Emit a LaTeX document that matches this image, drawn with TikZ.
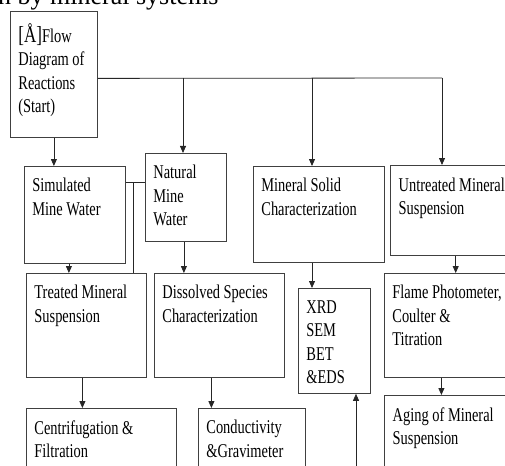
\documentclass[tikz,border=0pt]{standalone}
\usepackage{fontspec}
\setmainfont{Liberation Serif}[FakeStretch=0.74]
\newfontfamily\titlefont{Liberation Serif}
\usetikzlibrary{arrows.meta}

% top-aligned text block: width, height (pt), text
\newcommand{\boxtext}[3]{\parbox[c][\dimexpr#2pt-24pt\relax][t]{\dimexpr#1pt-16pt\relax}{\raggedright #3}}

\begin{document}
\begin{tikzpicture}[x=1pt, y=-1pt,
  box/.style={draw=black!75, line width=0.8pt, anchor=north west, inner xsep=8pt, inner ysep=12pt, font=\fontsize{19.5}{23.5}\selectfont},
  heavybox/.style={box, line width=1.4pt},
  arr/.style={-{Triangle[length=7pt,width=6pt]}, line width=0.8pt, draw=black!85},
  link/.style={line width=0.8pt, draw=black!85}]
  \useasboundingbox (0,0) rectangle (505,465);
  \clip (0,0) rectangle (505,465);
  % cut-off caption line
  \node[anchor=base west, inner sep=0pt, font=\titlefont\fontsize{26}{30}\selectfont] (title) at (-2,4.5) {n by mineral systems};
  % boxes
  \node[box] (start) at (10,11) {\boxtext{87}{126}{{\fontsize{23}{23}\selectfont[Å]}Flow\\Diagram of\\Reactions\\(Start)}};
  \node[box] (sim) at (24,166) {\boxtext{101}{97}{Simulated\\Mine Water}};
  \node[box] (nat) at (145,153) {\boxtext{81}{88}{Natural\\Mine\\Water}};
  \node[box] (msc) at (253,166) {\boxtext{131}{96}{Mineral Solid\\Characterization}};
  \node[heavybox] (unt) at (390,165) {\boxtext{130}{90}{Untreated Mineral\\Suspension}};
  \node[box] (tms) at (26,273) {\boxtext{120}{104}{Treated Mineral\\Suspension}};
  \node[box] (dsc) at (154,273) {\boxtext{130}{104}{Dissolved Species\\Characterization}};
  \node[box] (xrd) at (298,288) {\boxtext{72}{105}{XRD\\SEM\\BET\\\&EDS}};
  \node[box] (fpt) at (384,273) {\boxtext{140}{104}{Flame Photometer,\\Coulter \&\\Titration}};
  \node[box] (cfl) at (26,408) {\boxtext{150}{80}{Centrifugation \&\\Filtration}};
  \node[box] (cgr) at (198,408) {\boxtext{107}{80}{Conductivity\\\&Gravimeter}};
  \node[heavybox] (age) at (384,395) {\boxtext{140}{100}{Aging of Mineral\\Suspension}};
  % top bus
  \coordinate (bus) at ([yshift=-4pt]start.east);
  \coordinate (bend) at (442,78);
  \coordinate (dnat) at (183,78);
  \coordinate (dmsc) at (312,78);
  \draw[link] (bus) -- (bend);
  \draw[arr] (bend) -- (bend |- unt.north);
  \draw[arr] (dnat) -- (dnat |- nat.north);
  \draw[arr] (dmsc) -- (dmsc |- msc.north);
  \draw[arr] (start.south) -- (start.south |- sim.north);
  % simulated / natural link
  \coordinate (lk) at ([yshift=-16pt]sim.north east);
  \coordinate (lkdown) at (133,182);
  \draw[link] (lk) -- (lk -| nat.west);
  \draw[link] (lkdown) -- (lkdown |- tms.north);
  % downward steps
  \draw[arr] ([xshift=-6pt]sim.south) -- ([xshift=-6pt]sim.south |- tms.north);
  \draw[arr] ([xshift=-2pt]nat.south) -- ([xshift=-2pt]nat.south |- dsc.north);
  \draw[arr] (dmsc |- msc.south) -- (dmsc |- xrd.north);
  \draw[arr] (unt.south) -- (unt.south |- fpt.north);
  \draw[arr] ([xshift=-13pt]fpt.south) -- ([xshift=-13pt]fpt.south |- age.north);
  \draw[arr] ([xshift=-4pt]tms.south) -- ([xshift=-4pt]tms.south |- cfl.north);
  \draw[arr] ([xshift=-8pt]dsc.south) -- ([xshift=-8pt]dsc.south |- cgr.north);
  % incoming from below
  \coordinate (upin) at (356,470);
  \draw[arr] (upin) -- (upin |- xrd.south);
\end{tikzpicture}
\end{document}
